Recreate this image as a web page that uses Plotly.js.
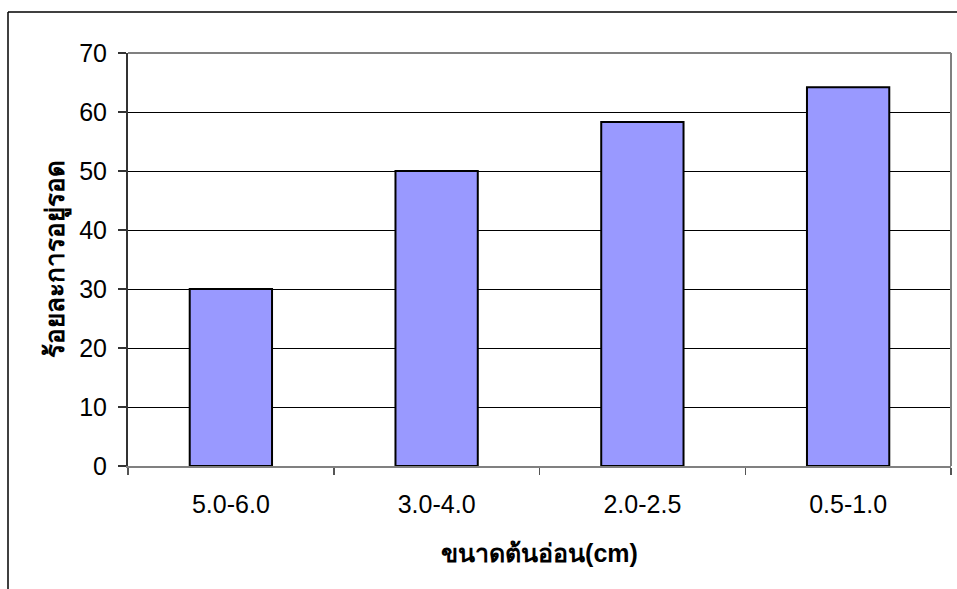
<!DOCTYPE html>
<html>
<head>
<meta charset="utf-8">
<script src="https://cdn.plot.ly/plotly-3.0.1.min.js"></script>
<style>html,body{margin:0;padding:0;background:#fff;}#chart{width:957px;height:589px;}</style>
</head>
<body>
<div id="chart"></div>
<script>
const categories = ["5.0-6.0", "3.0-4.0", "2.0-2.5", "0.5-1.0"];
const survivalPercent = [30, 50, 58.3, 64.2];
const yTickValues = [0, 10, 20, 30, 40, 50, 60, 70];
const xTitle = "ขนาดต้นอ่อน(cm)";
const yTitle = "ร้อยละการอยู่รอด";

const L = 128, R = 951, T = 53, B = 466, W = 957, H = 589;
const px = x => (x - L) / (R - L);
const py = y => (B - y) / (B - T);

const font = "Liberation Sans, Arial, sans-serif";

const trace = {
  type: "bar",
  x: categories,
  y: survivalPercent,
  width: 0.4,
  marker: { color: "#9999FF", line: { color: "#000000", width: 2 } },
  hoverinfo: "x+y"
};

const layout = {
  width: W, height: H,
  margin: { l: L, r: W - R, t: T, b: H - B, pad: 0 },
  paper_bgcolor: "#ffffff",
  plot_bgcolor: "#ffffff",
  showlegend: false,
  font: { family: font, size: 24, color: "#000" },
  xaxis: {
    type: "category",
    tickson: "boundaries",
    ticks: "outside", ticklen: 7, tickwidth: 1.5, tickcolor: "#555",
    showline: true, linecolor: "#808080", linewidth: 2,
    showgrid: false, zeroline: false,
    ticklabelstandoff: 15,
    tickfont: { family: font, size: 25, color: "#000" },
    title: { text: xTitle, font: { family: font, size: 25, color: "#000", weight: "bold" }, standoff: 27 },
    automargin: false
  },
  yaxis: {
    range: [0, 70],
    tickvals: yTickValues,
    ticks: "outside", ticklen: 8, tickwidth: 1.5, tickcolor: "#333",
    showline: true, linecolor: "#333", linewidth: 2,
    showgrid: true, gridcolor: "#000", gridwidth: 1,
    zeroline: false,
    ticklabelstandoff: 6,
    tickfont: { family: font, size: 25, color: "#000" },
    title: { text: yTitle, font: { family: font, size: 26, color: "#000", weight: "bold" }, standoff: 7 },
    automargin: false
  },
  shapes: [
    { type: "line", xref: "paper", yref: "paper", x0: 0, x1: 1, y0: 1, y1: 1, line: { color: "#808080", width: 2 } },
    { type: "line", xref: "paper", yref: "paper", x0: 1, x1: 1, y0: 0, y1: 1, line: { color: "#808080", width: 2 } },
    { type: "line", xref: "paper", yref: "paper", x0: px(8), x1: px(957), y0: py(12), y1: py(12), line: { color: "#000", width: 1.5 } },
    { type: "line", xref: "paper", yref: "paper", x0: px(8), x1: px(8), y0: py(12), y1: py(595), line: { color: "#000", width: 1.5 } }
  ]
};

Plotly.newPlot("chart", [trace], layout, { staticPlot: true, displayModeBar: false });
</script>
</body>
</html>
